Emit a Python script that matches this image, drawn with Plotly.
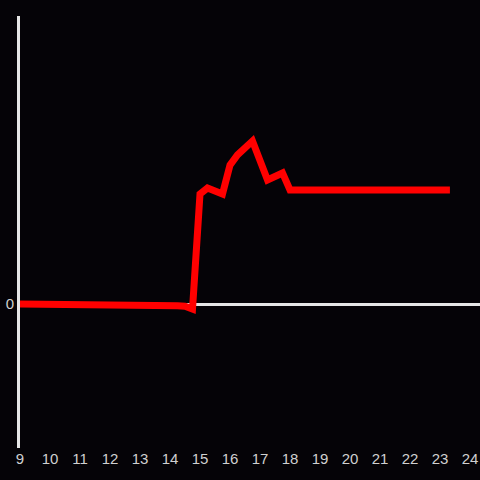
import plotly.graph_objects as go

hours = [9.0, 9.75, 10.75, 14.25, 14.5, 14.75, 15.0, 15.25, 15.75, 16.0, 16.25, 16.75, 17.25, 17.75, 18.0, 23.33]
values = [0.0, 0.0, -0.012, -0.012, -0.015, -0.035, 0.764, 0.806, 0.764, 0.965, 1.035, 1.132, 0.861, 0.91, 0.792, 0.792]
x_ticks = list(range(9, 25))

fig = go.Figure(go.Scatter(x=hours, y=values, mode="lines",
                           line=dict(color="#ff0000", width=7), hoverinfo="skip"))
fig.update_layout(
    width=480, height=480,
    margin=dict(l=20, r=0, t=16, b=32),
    paper_bgcolor="#050307", plot_bgcolor="#050307",
    showlegend=False,
    font=dict(family="Liberation Sans, Arial, sans-serif", size=15, color="#d0d0d0"),
)
fig.update_xaxes(range=[9, 24.333], tickvals=x_ticks, ticktext=[str(t) for t in x_ticks],
                 showgrid=False, zeroline=False, showline=False, ticks="")
fig.update_yaxes(range=[-1, 2], tickvals=[0], ticktext=["0"], showgrid=False,
                 zeroline=True, zerolinecolor="#e6e6e6", zerolinewidth=3,
                 showline=True, linecolor="#e6e6e6", linewidth=3, ticks="")
fig.write_html("out.html", config={"displayModeBar": False},
               post_script="document.body.style.margin='0';document.body.style.overflow='hidden';document.body.style.background='#050307';")
